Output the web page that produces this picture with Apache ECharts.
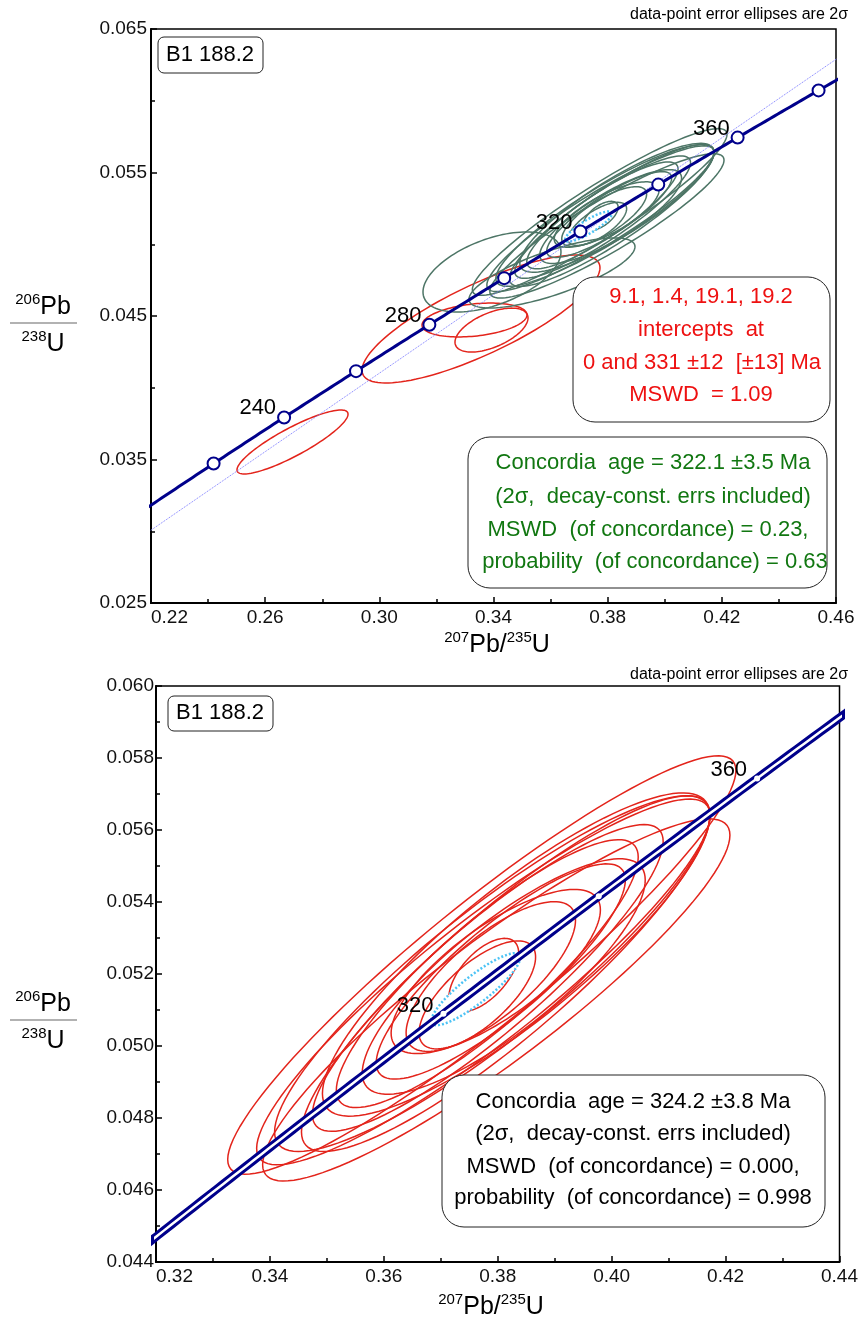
<!DOCTYPE html>
<html>
<head>
<meta charset="utf-8">
<script src="https://cdn.jsdelivr.net/npm/echarts@6.0.0/dist/echarts.min.js"></script>
<style>
html, body { margin: 0; padding: 0; background: #fff; }
#main { width: 861px; height: 1322px; }
</style>
</head>
<body>
<div id="main"></div>
<script>
// decay constants (1/yr) used to place the concordia
var LAMBDA_238 = 1.55125e-10;
var LAMBDA_235 = 9.8485e-10;

// concordia age marks, Ma
var topTickAges = [220, 240, 260, 280, 300, 320, 340, 360, 380];
var topLabelAges = [240, 280, 320, 360];
var bottomTickAges = [320, 340, 360];
var bottomLabelAges = [320, 360];

// error ellipses (2 sigma): [207Pb/235U, 206Pb/238U, sx, sy, rho]
var topRedEllipses = [
    [0.26958, 0.03622, 0.01945, 0.00223, 0.87],
    [0.33562, 0.04479, 0.04169, 0.00446, 0.80],
    [0.33334, 0.04472, 0.01839, 0.00118, 0.30],
    [0.33930, 0.04402, 0.01279, 0.00153, 0.55]
];
var topExtraGreen = [
    [0.33947, 0.04807, 0.02417, 0.00279, 0.50],
    [0.36049, 0.04800, 0.02908, 0.00244, 0.75]
];
// concordant group (red in lower plot, green in upper)
var concordantEllipses = [
    [0.37720, 0.05225, 0.04461, 0.00581, 0.93],
    [0.37974, 0.05128, 0.04102, 0.00503, 0.91],
    [0.37747, 0.05178, 0.03980, 0.00508, 0.91],
    [0.37904, 0.05201, 0.03822, 0.00494, 0.89],
    [0.38140, 0.05201, 0.03586, 0.00494, 0.89],
    [0.37825, 0.05189, 0.03079, 0.00426, 0.89],
    [0.38324, 0.05254, 0.03402, 0.00449, 0.86],
    [0.37816, 0.05201, 0.02650, 0.00372, 0.87],
    [0.38105, 0.05193, 0.02484, 0.00327, 0.82],
    [0.38053, 0.05207, 0.02187, 0.00299, 0.85],
    [0.37965, 0.05207, 0.01837, 0.00228, 0.75],
    [0.37878, 0.05193, 0.01487, 0.00208, 0.75],
    [0.37641, 0.05142, 0.01023, 0.00150, 0.70],
    [0.37755, 0.05197, 0.00612, 0.00102, 0.60]
];
// concordia-age ellipses: [age Ma, sx, sy, rho]
var topConcAge = [322.1, 0.0082, 0.00105, 0.86];
var bottomConcAge = [324.2, 0.0078, 0.00100, 0.88];
var discordiaUpperAge = 331;

var FONT = '"Liberation Sans", Arial, Helvetica, sans-serif';
var NAVY = '#00008b';
var RED = '#e3241b';
var GREEN = '#4d7566';
var CYAN = '#4cc3f5';

function r206(t) { return Math.exp(LAMBDA_238 * t * 1e6) - 1; }
function r207(t) { return Math.exp(LAMBDA_235 * t * 1e6) - 1; }

function concordia(t0, t1) {
    var out = [];
    for (var t = t0; t <= t1; t += 1) out.push([r207(t), r206(t)]);
    return out;
}

function ageMarks(ages, labels) {
    return ages.map(function (t) {
        return {
            value: [r207(t), r206(t)],
            label: { show: labels.indexOf(t) >= 0, formatter: String(t) }
        };
    });
}

function concAgeItem(c) {
    return [r207(c[0]), r206(c[0]), c[1], c[2], c[3]];
}

function ellipseRender(stroke, width, dash, fill) {
    return function (params, api) {
        var cx = api.value(0), cy = api.value(1), sx = api.value(2), sy = api.value(3), rho = api.value(4);
        var q = Math.sqrt(1 - rho * rho);
        var pts = [];
        for (var k = 0; k < 120; k++) {
            var a = k / 120 * 2 * Math.PI;
            pts.push(api.coord([cx + sx * Math.cos(a), cy + sy * (rho * Math.cos(a) + q * Math.sin(a))]));
        }
        return {
            type: 'polygon',
            shape: { points: pts },
            style: { fill: fill || 'none', stroke: stroke, lineWidth: width, lineDash: dash || null }
        };
    };
}

function ellipseSeries(data, xi, stroke, width, z, dash, fill) {
    return {
        type: 'custom', xAxisIndex: xi, yAxisIndex: xi, clip: true, z: z, silent: true,
        encode: { x: 0, y: 1 },
        data: data,
        renderItem: ellipseRender(stroke, width, dash, fill)
    };
}

function xAxisCfg(idx, min, max, step) {
    return {
        type: 'value', gridIndex: idx, min: min, max: max, interval: step,
        axisLine: { lineStyle: { color: '#000', width: 2 } },
        axisTick: { inside: true, length: 6, lineStyle: { color: '#000', width: 1.5 } },
        minorTick: { show: true, splitNumber: 2, length: 4, lineStyle: { color: '#000', width: 1.5 } },
        splitLine: { show: false },
        axisLabel: {
            fontSize: 19, color: '#111', fontFamily: FONT, margin: 5, alignMinLabel: 'left',
            formatter: function (v) { return v.toFixed(2); }
        }
    };
}
function yAxisCfg(idx, min, max, step, margin) {
    return {
        type: 'value', gridIndex: idx, min: min, max: max, interval: step,
        axisLine: { lineStyle: { color: '#000', width: 2 } },
        axisTick: { inside: true, length: 6, lineStyle: { color: '#000', width: 1.5 } },
        minorTick: { show: true, splitNumber: 2, length: 4, lineStyle: { color: '#000', width: 1.5 } },
        splitLine: { show: false },
        axisLabel: {
            fontSize: 19, color: '#111', fontFamily: FONT, margin: margin,
            formatter: function (v) { return v.toFixed(3); }
        }
    };
}

var dSlope = r206(discordiaUpperAge) / r207(discordiaUpperAge);

var markerLabel = { color: '#000', fontSize: 22, fontFamily: FONT, align: 'right', verticalAlign: 'bottom' };

var richTitle = {
    s: { fontSize: 15, fontFamily: FONT, verticalAlign: 'top', lineHeight: 28, fill: '#000' },
    b: { fontSize: 25, fontFamily: FONT, verticalAlign: 'bottom', lineHeight: 28, fill: '#000' }
};

function text(x, y, str, size, color, align, valign) {
    return {
        type: 'text', x: x, y: y, z: 101,
        style: {
            text: str, fontSize: size, fontFamily: FONT, fill: color,
            align: align || 'center', verticalAlign: valign || 'middle'
        }
    };
}
function box(x, y, w, h, r) {
    return {
        type: 'rect', z: 100,
        shape: { x: x, y: y, width: w, height: h, r: r },
        style: { fill: '#fff', stroke: '#222', lineWidth: 1 }
    };
}
function richText(x, y, str, valign) {
    return {
        type: 'text', x: x, y: y, z: 101,
        style: { text: str, rich: richTitle, align: 'center', verticalAlign: valign }
    };
}
function fraction(cx, lineY) {
    return [
        richText(cx, lineY - 3, '{s|206}{b|Pb}', 'bottom'),
        { type: 'line', z: 101, shape: { x1: 10, y1: lineY, x2: 77, y2: lineY }, style: { stroke: '#999', lineWidth: 1.5 } },
        richText(cx, lineY + 6, '{s|238}{b|U}', 'top')
    ];
}

var graphics = [
    // upper plot
    box(158, 37, 105, 36, 6),
    text(210, 55, 'B1 188.2', 22, '#000'),
    text(848, 15, 'data-point error ellipses are 2σ', 16, '#000', 'right'),
    box(573, 277, 257, 145, 22),
    text(701, 297, '9.1, 1.4, 19.1, 19.2', 22, '#ee1111'),
    text(701, 330, 'intercepts  at', 22, '#ee1111'),
    text(702, 363, '0 and 331 ±12  [±13] Ma', 22, '#ee1111'),
    text(701, 395, 'MSWD  = 1.09', 22, '#ee1111'),
    box(468, 437, 359, 151, 22),
    text(653, 463, 'Concordia  age = 322.1 ±3.5 Ma', 22, '#117711'),
    text(653, 497, '(2σ,  decay-const. errs included)', 22, '#117711'),
    text(648, 530, 'MSWD  (of concordance) = 0.23,', 22, '#117711'),
    text(655, 562, 'probability  (of concordance) = 0.63', 22, '#117711'),
    richText(497, 658, '{s|207}{b|Pb/}{s|235}{b|U}', 'bottom'),
    // lower plot
    box(168, 696, 105, 35, 6),
    text(220, 713, 'B1 188.2', 22, '#000'),
    text(848, 675, 'data-point error ellipses are 2σ', 16, '#000', 'right'),
    box(442, 1075, 383, 152, 22),
    text(633, 1102, 'Concordia  age = 324.2 ±3.8 Ma', 22, '#000'),
    text(633, 1134, '(2σ,  decay-const. errs included)', 22, '#000'),
    text(633, 1167, 'MSWD  (of concordance) = 0.000,', 22, '#000'),
    text(633, 1198, 'probability  (of concordance) = 0.998', 22, '#000'),
    richText(491, 1320, '{s|207}{b|Pb/}{s|235}{b|U}', 'bottom')
].concat(fraction(43, 323), fraction(43, 1020));

var option = {
    backgroundColor: '#fff',
    animation: false,
    grid: [
        { left: 151, right: 25, top: 29, height: 574, show: true, borderColor: '#000', borderWidth: 1.5, backgroundColor: 'transparent' },
        { left: 156, right: 19, top: 686, height: 576, show: true, borderColor: '#000', borderWidth: 1.5, backgroundColor: 'transparent' }
    ],
    xAxis: [xAxisCfg(0, 0.22, 0.46, 0.04), xAxisCfg(1, 0.32, 0.44, 0.02)],
    yAxis: [yAxisCfg(0, 0.025, 0.065, 0.01, 4), yAxisCfg(1, 0.044, 0.060, 0.002, 2)],
    series: [
        // ---- upper plot ----
        ellipseSeries(topRedEllipses, 0, RED, 1.5, 2),
        ellipseSeries(concordantEllipses.concat(topExtraGreen), 0, GREEN, 1.5, 3),
        ellipseSeries([concAgeItem(topConcAge)], 0, CYAN, 2.5, 4, [2, 2], '#fff'),
        {
            type: 'line', xAxisIndex: 0, yAxisIndex: 0, z: 5, silent: true,
            data: [[0, 0], [0.6, 0.6 * dSlope]], showSymbol: false,
            lineStyle: { color: '#7a7aff', width: 1, type: 'dotted' }
        },
        {
            type: 'line', xAxisIndex: 0, yAxisIndex: 0, z: 6, silent: true,
            data: concordia(195, 395), showSymbol: false, smooth: false,
            lineStyle: { color: NAVY, width: 3 }
        },
        {
            type: 'scatter', xAxisIndex: 0, yAxisIndex: 0, z: 7, silent: true,
            data: ageMarks(topTickAges, topLabelAges),
            symbol: 'circle', symbolSize: 12,
            itemStyle: { color: '#fff', borderColor: NAVY, borderWidth: 2, opacity: 1 },
            label: Object.assign({ position: [-1, 9] }, markerLabel)
        },
        // ---- lower plot ----
        ellipseSeries(concordantEllipses, 1, RED, 1.5, 2),
        ellipseSeries([concAgeItem(bottomConcAge)], 1, CYAN, 2.5, 4, [2, 2], '#fff'),
        {
            type: 'line', xAxisIndex: 1, yAxisIndex: 1, z: 6, silent: true,
            data: concordia(270, 380), showSymbol: false,
            lineStyle: { color: NAVY, width: 8.5 }
        },
        {
            type: 'line', xAxisIndex: 1, yAxisIndex: 1, z: 6, silent: true,
            data: concordia(270, 380), showSymbol: false,
            lineStyle: { color: '#fff', width: 2.5 }
        },
        {
            type: 'scatter', xAxisIndex: 1, yAxisIndex: 1, z: 7, silent: true,
            data: ageMarks(bottomTickAges, bottomLabelAges),
            symbol: 'circle', symbolSize: 6,
            itemStyle: { color: '#fff', opacity: 1 },
            label: Object.assign({ position: [-7, 6] }, markerLabel)
        }
    ],
    graphic: graphics
};

var myChart = echarts.init(document.getElementById('main'), null, { renderer: 'canvas' });
myChart.setOption(option);
</script>
</body>
</html>
